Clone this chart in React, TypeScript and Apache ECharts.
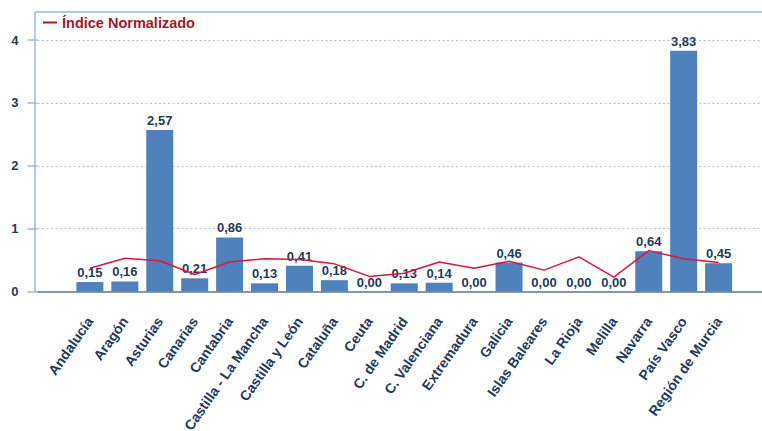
import React, { useEffect, useRef } from "react";
import * as echarts from "echarts";

const categories = [
  "Andalucía", "Aragón", "Asturias", "Canarias", "Cantabria",
  "Castilla - La Mancha", "Castilla y León", "Cataluña", "Ceuta",
  "C. de Madrid", "C. Valenciana", "Extremadura", "Galicia",
  "Islas Baleares", "La Rioja", "Melilla", "Navarra", "País Vasco",
  "Región de Murcia",
];
const barValues = [0.15, 0.16, 2.57, 0.21, 0.86, 0.13, 0.41, 0.18, 0.0, 0.13, 0.14, 0.0, 0.46, 0.0, 0.0, 0.0, 0.64, 3.83, 0.45];
const indexValues = [0.37, 0.53, 0.49, 0.27, 0.47, 0.52, 0.51, 0.44, 0.24, 0.29, 0.47, 0.37, 0.48, 0.34, 0.55, 0.23, 0.65, 0.52, 0.46];
const lineName = "Índice Normalizado";
const yTicks = [0, 1, 2, 3, 4];

const NAVY = "#1F3B5E";
const AXIS_BLUE = "#9DB9E0";
const FONT = "Liberation Sans, Arial, sans-serif";

export default function App() {
  const ref = useRef<HTMLDivElement>(null);
  useEffect(() => {
    if (!ref.current) return;
    const chart = echarts.init(ref.current, null, { renderer: "svg" });
    const cats = ["", ...categories, ""];
    const bars: (number | null)[] = [null, ...barValues, null];
    const line: (number | null)[] = [null, ...indexValues, null];
    chart.setOption({
      animation: false,
      textStyle: { fontFamily: FONT },
      legend: {
        left: 38,
        top: 10,
        icon: "rect",
        itemWidth: 14,
        itemHeight: 2,
        itemGap: 4,
        data: [{ name: lineName, itemStyle: { color: "#A3172B" } }],
        textStyle: { color: "#A3172B", fontWeight: "bold", fontSize: 14.5, fontFamily: FONT },
      },
      grid: { left: 37.5, right: 0, top: 40, bottom: 139.5, containLabel: false, outerBoundsMode: "none" },
      xAxis: {
        type: "category",
        data: cats,
        axisLine: { lineStyle: { color: "#8796AD", width: 2 } },
        axisTick: {
          alignWithLabel: true,
          length: 10,
          interval: (i: number) => i > 0 && i < cats.length - 1,
          lineStyle: { color: AXIS_BLUE, width: 1.5 },
        },
        axisLabel: {
          interval: 0,
          rotate: 55,
          margin: 27,
          color: NAVY,
          fontWeight: "bold",
          fontSize: 14,
          fontFamily: FONT,
        },
        splitLine: { show: false },
      },
      yAxis: {
        type: "value",
        min: yTicks[0],
        max: yTicks[yTicks.length - 1],
        interval: 1,
        axisLine: { show: false },
        axisTick: { show: true, length: 10, lineStyle: { color: AXIS_BLUE, width: 1.5 } },
        axisLabel: {
          margin: 19,
          color: NAVY,
          fontWeight: "bold",
          fontSize: 13,
          fontFamily: FONT,
        },
        splitLine: { lineStyle: { color: "#A8C4E8", type: [2, 2.5], width: 1.2 } },
      },
      graphic: [
        { type: "line", shape: { x1: 35, y1: 12, x2: 35, y2: 292 }, style: { stroke: AXIS_BLUE, lineWidth: 1.5 }, z: 10 },
        { type: "line", shape: { x1: 35, y1: 12, x2: 771, y2: 12 }, style: { stroke: AXIS_BLUE, lineWidth: 1.5 }, z: 10 },
      ],
      series: [
        {
          type: "bar",
          name: "Valor",
          data: bars,
          barWidth: 27,
          itemStyle: { color: "#4F81BD" },
          label: {
            show: true,
            position: "top",
            distance: 3,
            color: NAVY,
            fontWeight: "bold",
            fontSize: 13,
            fontFamily: FONT,
            formatter: (p: any) => (p.value == null ? "" : Number(p.value).toFixed(2).replace(".", ",")),
          },
          z: 2,
        },
        {
          type: "line",
          name: lineName,
          data: line,
          symbol: "none",
          lineStyle: { color: "#E0143C", width: 1.5 },
          itemStyle: { color: "#E0143C" },
          z: 3,
        },
      ],
    });
    return () => chart.dispose();
  }, []);
  return (
    <div style={{ position: "absolute", left: 0, top: 0, width: 762, height: 431, overflow: "hidden", background: "#fff" }}>
      <div ref={ref} style={{ position: "absolute", left: 0, top: 0, width: 771, height: 431 }} />
    </div>
  );
}
